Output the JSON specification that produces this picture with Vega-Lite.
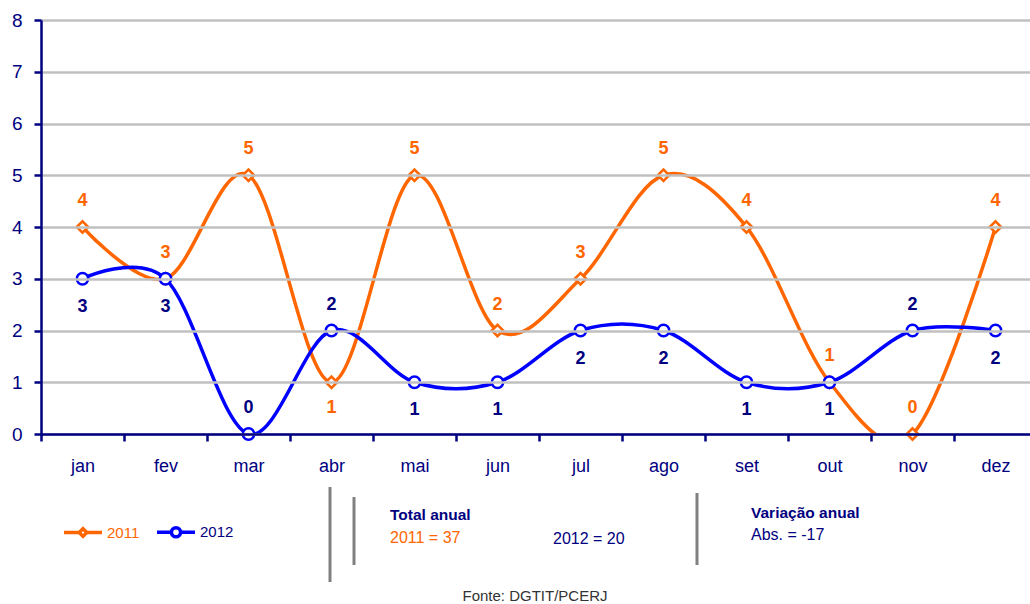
{
  "$schema": "https://vega.github.io/schema/vega-lite/v6.json",
  "width": 989,
  "height": 414,
  "autosize": {"type": "none"},
  "padding": {"left": 41, "top": 20, "right": 0, "bottom": 170},
  "background": "white",
  "config": {
    "view": {"stroke": null},
    "font": "Liberation Sans, Arial, sans-serif"
  },
  "datasets": {
    "series": [
      {"month": "jan", "year": "2011", "value": 4},
      {"month": "fev", "year": "2011", "value": 3},
      {"month": "mar", "year": "2011", "value": 5},
      {"month": "abr", "year": "2011", "value": 1},
      {"month": "mai", "year": "2011", "value": 5},
      {"month": "jun", "year": "2011", "value": 2},
      {"month": "jul", "year": "2011", "value": 3},
      {"month": "ago", "year": "2011", "value": 5},
      {"month": "set", "year": "2011", "value": 4},
      {"month": "out", "year": "2011", "value": 1},
      {"month": "nov", "year": "2011", "value": 0},
      {"month": "dez", "year": "2011", "value": 4},
      {"month": "jan", "year": "2012", "value": 3},
      {"month": "fev", "year": "2012", "value": 3},
      {"month": "mar", "year": "2012", "value": 0},
      {"month": "abr", "year": "2012", "value": 2},
      {"month": "mai", "year": "2012", "value": 1},
      {"month": "jun", "year": "2012", "value": 1},
      {"month": "jul", "year": "2012", "value": 2},
      {"month": "ago", "year": "2012", "value": 2},
      {"month": "set", "year": "2012", "value": 1},
      {"month": "out", "year": "2012", "value": 1},
      {"month": "nov", "year": "2012", "value": 2},
      {"month": "dez", "year": "2012", "value": 2}
    ]
  },
  "data": {"name": "series"},
  "encoding": {
    "x": {
      "field": "month", "type": "ordinal",
      "sort": ["jan","fev","mar","abr","mai","jun","jul","ago","set","out","nov","dez"],
      "scale": {"paddingInner": 0, "paddingOuter": 0, "range": [0, 996]},
      "axis": {
        "title": null, "labelAngle": 0, "tickBand": "extent",
        "domainColor": "#000080", "domainWidth": 2.5,
        "tickColor": "#000080", "tickWidth": 2.5, "tickSize": 7,
        "labelColor": "#000080", "labelFontSize": 18, "labelPadding": 16,
        "grid": false, "zindex": 1
      }
    },
    "y": {
      "field": "value", "type": "quantitative",
      "scale": {"domain": [0, 8], "nice": false},
      "axis": {
        "title": null, "values": [0,1,2,3,4,5,6,7,8],
        "domainColor": "#000080", "domainWidth": 2.5,
        "tickColor": "#000080", "tickWidth": 2.5, "tickSize": 7,
        "labelColor": "#000080", "labelFontSize": 19, "labelPadding": 12,
        "grid": true, "gridColor": "#C0C0C0", "gridWidth": 2.5, "zindex": 1
      }
    }
  },
  "layer": [
    {
      "mark": {"type": "line", "interpolate": "cardinal", "strokeWidth": 3.5, "clip": true},
      "encoding": {
        "color": {
          "field": "year", "type": "nominal",
          "scale": {"domain": ["2011", "2012"], "range": ["#FF6600", "#0000FF"]},
          "legend": {
            "title": null, "orient": "none", "direction": "horizontal",
            "legendX": 21, "legendY": 491,
            "symbolSize": 1444, "symbolStrokeWidth": 3.5,
            "labelFontSize": 15, "labelOffset": 3, "columnPadding": 10,
            "encode": {
              "symbols": {"update": {
                "shape": {"signal": "datum.value === '2011' ? 'M-1,0L-0.2,0M0.2,0L1,0M0,-0.2L0.2,0L0,0.2L-0.2,0Z' : 'M-1,0L-0.24,0M0.24,0L1,0M-0.24,0A0.24,0.24 0 1,0 0.24,0A0.24,0.24 0 1,0 -0.24,0Z'"},
                "fill": {"value": "white"},
                "strokeWidth": {"value": 3.5}
              }},
              "labels": {"update": {
                "fill": {"signal": "datum.value === '2011' ? '#FF6600' : '#000080'"}
              }}
            }
          }
        }
      }
    },
    {
      "transform": [{"filter": "datum.year === '2011'"}],
      "mark": {"type": "point", "shape": "diamond", "filled": false, "fill": "white", "fillOpacity": 1, "strokeWidth": 2.5, "size": 130, "opacity": 1},
      "encoding": {"color": {"field": "year", "type": "nominal"}}
    },
    {
      "transform": [{"filter": "datum.year === '2012'"}],
      "mark": {"type": "point", "shape": "circle", "filled": false, "fill": "white", "fillOpacity": 1, "strokeWidth": 2.5, "size": 130, "opacity": 1},
      "encoding": {"color": {"field": "year", "type": "nominal"}}
    },
    {
      "transform": [{"filter": "datum.year === '2011' && datum.month !== 'abr'"}],
      "mark": {"type": "text", "dy": -26, "baseline": "middle", "fontWeight": "bold", "fontSize": 18, "color": "#FF6600"},
      "encoding": {"text": {"field": "value", "type": "quantitative"}}
    },
    {
      "transform": [{"filter": "datum.year === '2011' && datum.month === 'abr'"}],
      "mark": {"type": "text", "dy": 26, "baseline": "middle", "fontWeight": "bold", "fontSize": 18, "color": "#FF6600"},
      "encoding": {"text": {"field": "value", "type": "quantitative"}}
    },
    {
      "transform": [{"filter": "datum.year === '2012' && indexof(['mar','abr','nov'], datum.month) >= 0"}],
      "mark": {"type": "text", "dy": -26, "baseline": "middle", "fontWeight": "bold", "fontSize": 18, "color": "#000080"},
      "encoding": {"text": {"field": "value", "type": "quantitative"}}
    },
    {
      "transform": [{"filter": "datum.year === '2012' && indexof(['mar','abr','nov'], datum.month) < 0"}],
      "mark": {"type": "text", "dy": 28, "baseline": "middle", "fontWeight": "bold", "fontSize": 18, "color": "#000080"},
      "encoding": {"text": {"field": "value", "type": "quantitative"}}
    },
    {
      "data": {"values": [{}]},
      "mark": {"type": "rule", "color": "#808080", "strokeWidth": 3},
      "encoding": {"x": {"value": 289}, "y": {"value": 467}, "y2": {"value": 562}}
    },
    {
      "data": {"values": [{}]},
      "mark": {"type": "rule", "color": "#808080", "strokeWidth": 3},
      "encoding": {"x": {"value": 313}, "y": {"value": 477}, "y2": {"value": 545}}
    },
    {
      "data": {"values": [{}]},
      "mark": {"type": "rule", "color": "#808080", "strokeWidth": 3},
      "encoding": {"x": {"value": 656}, "y": {"value": 473}, "y2": {"value": 545}}
    },
    {
      "data": {"values": [{}]},
      "mark": {"type": "text", "text": "Total anual", "align": "left", "baseline": "alphabetic", "fontWeight": "bold", "fontSize": 15.5, "color": "#000080"},
      "encoding": {"x": {"value": 349}, "y": {"value": 500}}
    },
    {
      "data": {"values": [{}]},
      "mark": {"type": "text", "text": "2011 = 37", "align": "left", "baseline": "alphabetic", "fontSize": 16, "color": "#FF6600"},
      "encoding": {"x": {"value": 349}, "y": {"value": 523}}
    },
    {
      "data": {"values": [{}]},
      "mark": {"type": "text", "text": "2012 = 20", "align": "left", "baseline": "alphabetic", "fontSize": 16, "color": "#000080"},
      "encoding": {"x": {"value": 512}, "y": {"value": 524}}
    },
    {
      "data": {"values": [{}]},
      "mark": {"type": "text", "text": "Variação anual", "align": "left", "baseline": "alphabetic", "fontWeight": "bold", "fontSize": 15.5, "color": "#000080"},
      "encoding": {"x": {"value": 710}, "y": {"value": 498}}
    },
    {
      "data": {"values": [{}]},
      "mark": {"type": "text", "text": "Abs. = -17", "align": "left", "baseline": "alphabetic", "fontSize": 16, "color": "#000080"},
      "encoding": {"x": {"value": 710}, "y": {"value": 520}}
    },
    {
      "data": {"values": [{}]},
      "mark": {"type": "text", "text": "Fonte: DGTIT/PCERJ", "align": "center", "baseline": "alphabetic", "fontSize": 15, "color": "#333333"},
      "encoding": {"x": {"value": 494}, "y": {"value": 581}}
    }
  ]
}
